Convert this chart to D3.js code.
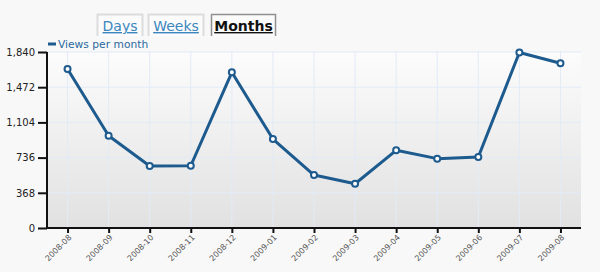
<!DOCTYPE html>
<html><head><meta charset="utf-8">
<script src="https://cdn.jsdelivr.net/npm/d3@7"></script>
<style>
html,body{margin:0;padding:0;background:#f8f8f8;}
svg{display:block;font-family:"DejaVu Sans",Verdana,sans-serif;}
</style></head>
<body><svg id="c" width="600" height="272"></svg>
<script>
const categories = ["2008-08","2008-09","2008-10","2008-11","2008-12","2009-01","2009-02","2009-03","2009-04","2009-05","2009-06","2009-07","2009-08"];
const views = [1662,965,648,651,1628,930,554,463,812,725,742,1835,1722];
const yTicks = [0,368,736,1104,1472,1840];
const tabs = ["Days","Weeks","Months"];
const selectedTab = "Months";
const seriesName = "Views per month";

const svg = d3.select("#c");
const L=47, R=581, T=52, B=228;
const lineColor = "#1d5a8e";

const defs = svg.append("defs");
const grad = defs.append("linearGradient").attr("id","bg").attr("x1",0).attr("y1",0).attr("x2",0).attr("y2",1);
grad.append("stop").attr("offset","0%").attr("stop-color","#fcfcfc");
grad.append("stop").attr("offset","100%").attr("stop-color","#e1e1e1");

// tabs
const tabX = [97,148,211], tabW=[46,56,65];
tabs.forEach((t,i)=>{
  const sel = t===selectedTab;
  const x0=tabX[i]+0.5, x1=tabX[i]+tabW[i]-0.5;
  svg.append("path").attr("d",`M${x0},36V14.5H${x1}V36`)
    .attr("fill", "#fbfbfb").attr("stroke", sel?"#8f8f8f":"#dcdcdc").attr("stroke-width",sel?1.5:2);
  svg.append("text").attr("x",tabX[i]+tabW[i]/2).attr("y",31).attr("text-anchor","middle")
    .attr("font-size",14).attr("font-weight",sel?"bold":"normal")
    .attr("fill",sel?"#111":"#3a86bd").attr("text-decoration","underline").text(t);
});

const x = d3.scalePoint().domain(categories).range([L,R]).padding(0.5);
const y = d3.scaleLinear().domain([0,1840]).range([B,T]);

svg.append("rect").attr("x",L).attr("y",T).attr("width",R-L).attr("height",B-T).attr("fill","url(#bg)");

// grid
svg.append("g").selectAll("line").data(categories).join("line")
  .attr("x1",d=>x(d)).attr("x2",d=>x(d)).attr("y1",T).attr("y2",B)
  .attr("stroke","#e2ebf7").attr("stroke-width",1);
svg.append("g").selectAll("line").data(yTicks.slice(1)).join("line")
  .attr("x1",L).attr("x2",R).attr("y1",d=>y(d)).attr("y2",d=>y(d))
  .attr("stroke","#e2ebf7").attr("stroke-width",1);

// axes
const yAxis = svg.append("g").attr("transform",`translate(${L},0)`)
  .call(d3.axisLeft(y).tickValues(yTicks).tickFormat(d3.format(",")).tickSize(9).tickPadding(3));
yAxis.select(".domain").attr("stroke","#111").attr("stroke-width",2).attr("d",`M0,${T}V${B}`);
yAxis.selectAll(".tick line").attr("stroke","#111").attr("stroke-width",2);
yAxis.selectAll(".tick text").attr("font-size",10).attr("fill","#222").attr("font-family","DejaVu Sans");

const xAxis = svg.append("g").attr("transform",`translate(0,${B})`)
  .call(d3.axisBottom(x).tickSize(5).tickSizeOuter(0));
xAxis.select(".domain").attr("stroke","#111").attr("stroke-width",2).attr("d",`M${L},0H${R}`);
xAxis.selectAll(".tick line").attr("stroke","#111").attr("stroke-width",2);
xAxis.selectAll(".tick text").attr("font-size",8).attr("fill","#555").attr("font-family","DejaVu Sans")
  .attr("text-anchor","end").attr("x",0).attr("y",0).attr("dy","0.35em")
  .attr("transform","translate(2,8) rotate(-45)");

// legend
svg.append("line").attr("x1",48).attr("x2",56).attr("y1",44).attr("y2",44).attr("stroke",lineColor).attr("stroke-width",3);
svg.append("text").attr("x",58).attr("y",48).attr("font-size",10.7).attr("fill","#2b6aa0").text(seriesName);

// line
svg.append("path").datum(views.map((v,i)=>[categories[i],v]))
  .attr("fill","none").attr("stroke",lineColor).attr("stroke-width",3).attr("stroke-linejoin","round")
  .attr("d",d3.line().x(d=>x(d[0])).y(d=>y(d[1])));
svg.append("g").selectAll("circle").data(views).join("circle")
  .attr("cx",(d,i)=>x(categories[i])).attr("cy",d=>y(d)).attr("r",3)
  .attr("fill","#fff").attr("stroke",lineColor).attr("stroke-width",2);
</script></body></html>
